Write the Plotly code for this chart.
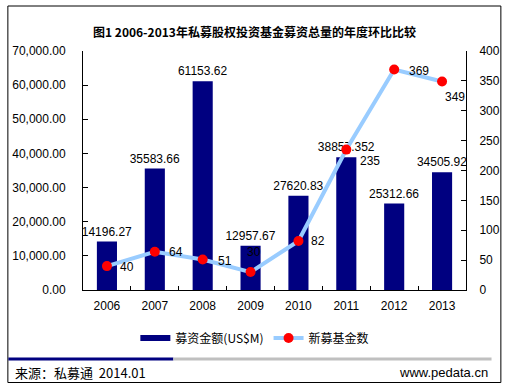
import plotly.graph_objects as go

years = ["2006", "2007", "2008", "2009", "2010", "2011", "2012", "2013"]
amounts = [14196.27, 35583.66, 61153.62, 12957.67, 27620.83, 38857.352, 25312.66, 34505.92]
amount_labels = ["14196.27", "35583.66", "61153.62", "12957.67", "27620.83", "38857.352", "25312.66", "34505.92"]
fund_counts = [40, 64, 51, 30, 82, 235, 369, 349]

# label placement for the fund-count labels (styling only)
lbl_anchor = ["left", "left", "left", "center", "left", "left", "left", "left"]
lbl_dx = [11, 12, 13, 3, 11, 12, 13, 1]
lbl_dy = [-1, 0, -1, 20, 0, -11, -1, -16]

title_text = "图1 2006-2013年私募股权投资基金募资总量的年度环比比较"
bar_name = "募资金额(US$M)"
line_name = "新募基金数"
source_text = "来源：私募通  2014.01"
site_text = "www.pedata.cn"

W, H = 512, 388
L, R, T, B = 82, 472, 51, 290  # plot area in pixels


def px(x):
    return (x - L) / (R - L)


def py(y):
    return (B - y) / (B - T)


NUM_FONT = "Arial, Liberation Sans, sans-serif"
CJK_FONT = "Noto Sans CJK SC, sans-serif"
NAVY = "#000080"

fig = go.Figure()
fig.add_trace(go.Bar(
    x=years, y=amounts, name=bar_name, showlegend=False,
    marker=dict(color=NAVY, line=dict(width=0)),
    width=0.42,
    text=amount_labels, textposition="outside", constraintext="none",
    textfont=dict(family=NUM_FONT, size=12, color="#000000"),
    cliponaxis=False,
))
# legend entry drawn as a flat navy bar, as in the reference
fig.add_trace(go.Scatter(
    x=[None], y=[None], name=bar_name, mode="lines",
    line=dict(color=NAVY, width=6), hoverinfo="skip",
))
fig.add_trace(go.Scatter(
    x=years, y=fund_counts, name=line_name, yaxis="y2",
    mode="lines+markers",
    line=dict(color="#99CCFF", width=4),
    marker=dict(color="#FF0000", size=10),
    cliponaxis=False,
))

shapes = [
    dict(type="rect", xref="paper", yref="paper",
         x0=px(5.5), x1=px(507.5), y0=py(382.5), y1=py(6),
         line=dict(color="#000000", width=1), fillcolor="rgba(0,0,0,0)", layer="above"),
    dict(type="line", xref="paper", yref="paper",
         x0=px(6), x1=px(174), y0=py(359), y1=py(359),
         line=dict(color=NAVY, width=3)),
    dict(type="line", xref="paper", yref="paper",
         x0=px(174), x1=px(498), y0=py(359), y1=py(359),
         line=dict(color="#C0C0C0", width=3)),
]

annotations = [
    dict(text="<b>" + title_text + "</b>", xref="paper", yref="paper",
         x=px(256.5), y=py(31), xanchor="center", yanchor="middle", showarrow=False,
         font=dict(family=CJK_FONT, size=12, color="#000000")),
    dict(text=source_text, xref="paper", yref="paper",
         x=px(11), y=py(372), xanchor="left", yanchor="middle", showarrow=False,
         font=dict(family=CJK_FONT, size=13, color="#000000")),
    dict(text=site_text, xref="paper", yref="paper",
         x=px(496), y=py(372), xanchor="right", yanchor="middle", showarrow=False,
         font=dict(family=NUM_FONT, size=13, color="#000000")),
]

for i, v in enumerate(fund_counts):
    annotations.append(dict(
        text=str(v), x=i, y=v, xref="x", yref="y2",
        xanchor=lbl_anchor[i], yanchor="middle",
        xshift=lbl_dx[i], yshift=lbl_dy[i], showarrow=False,
        font=dict(family=NUM_FONT, size=12, color="#000000"),
    ))

fig.update_layout(
    width=W, height=H, autosize=False,
    margin=dict(l=L, r=W - R, t=T, b=H - B, pad=0),
    paper_bgcolor="#FFFFFF", plot_bgcolor="#FFFFFF",
    showlegend=True,
    legend=dict(orientation="h", x=px(257), y=py(338), xanchor="center", yanchor="middle",
                font=dict(family=CJK_FONT, size=12, color="#000000"),
                itemwidth=30, tracegroupgap=0, bgcolor="rgba(0,0,0,0)"),
    bargap=0.58,
    xaxis=dict(
        type="category", range=[-0.5, len(years) - 0.5],
        showline=True, linecolor="#000000", linewidth=1,
        ticks="inside", tickson="boundaries", ticklen=4, tickcolor="#000000",
        showgrid=False, zeroline=False, ticklabelstandoff=5,
        tickfont=dict(family=NUM_FONT, size=12, color="#000000"),
    ),
    yaxis=dict(
        range=[0, 70000], dtick=10000, tickformat=",.2f",
        showline=True, linecolor="#000000", linewidth=1,
        ticks="inside", ticklen=5, tickcolor="#000000",
        showgrid=False, zeroline=False, ticklabelstandoff=14,
        tickfont=dict(family=NUM_FONT, size=12, color="#000000"),
    ),
    yaxis2=dict(
        range=[0, 400], dtick=50, overlaying="y", side="right",
        showline=True, linecolor="#000000", linewidth=1,
        ticks="inside", ticklen=5, tickcolor="#000000",
        showgrid=False, zeroline=False, ticklabelstandoff=10,
        tickfont=dict(family=NUM_FONT, size=12, color="#000000"),
    ),
    shapes=shapes,
    annotations=annotations,
)

fig.write_html("out.html", config={"displayModeBar": False},
               post_script="document.body.style.margin='0';document.body.style.overflow='hidden';")
